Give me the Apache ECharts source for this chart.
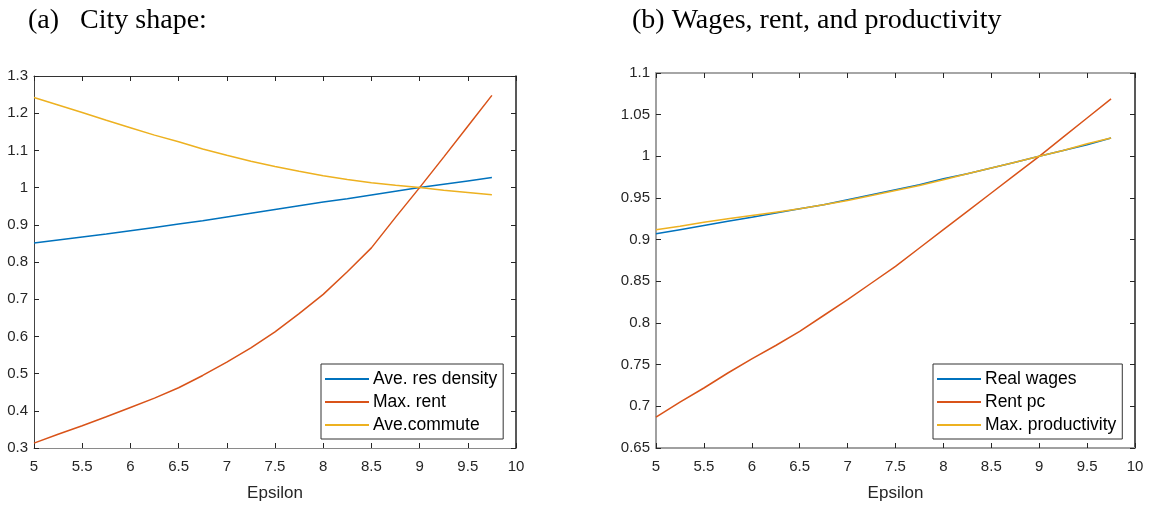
<!DOCTYPE html>
<html>
<head>
<meta charset="utf-8">
<script src="https://cdn.jsdelivr.net/npm/echarts@6/dist/echarts.min.js"></script>
<style>
  html, body { margin: 0; padding: 0; background: #fff; }
  #chart { width: 1151px; height: 507px; }
</style>
</head>
<body>
<div id="chart"></div>
<script>
// Elasticity parameter on the horizontal axis
const epsilon = [5, 5.25, 5.5, 5.75, 6, 6.25, 6.5, 6.75, 7, 7.25, 7.5, 7.75, 8, 8.25, 8.5, 8.75, 9, 9.25, 9.5, 9.75];

// (a) City shape
const resDensity = [0.851, 0.859, 0.867, 0.875, 0.884, 0.893, 0.902, 0.911, 0.921, 0.931, 0.941, 0.951, 0.961, 0.970, 0.980, 0.990, 1.000, 1.009, 1.018, 1.027];
const maxRent    = [0.313, 0.337, 0.360, 0.384, 0.409, 0.434, 0.462, 0.495, 0.531, 0.569, 0.612, 0.661, 0.713, 0.774, 0.838, 0.920, 1.000, 1.082, 1.165, 1.248];
const aveCommute = [1.242, 1.222, 1.202, 1.181, 1.161, 1.141, 1.123, 1.104, 1.087, 1.071, 1.057, 1.044, 1.032, 1.022, 1.013, 1.006, 1.000, 0.993, 0.987, 0.981];

// (b) Wages, rent, and productivity
const realWages       = [0.907, 0.912, 0.917, 0.922, 0.927, 0.932, 0.937, 0.942, 0.948, 0.954, 0.960, 0.966, 0.973, 0.979, 0.986, 0.993, 1.000, 1.007, 1.014, 1.022];
const rentPc          = [0.687, 0.705, 0.722, 0.740, 0.757, 0.773, 0.790, 0.809, 0.828, 0.848, 0.868, 0.890, 0.912, 0.934, 0.956, 0.978, 1.000, 1.023, 1.046, 1.069];
const maxProductivity = [0.912, 0.916, 0.921, 0.925, 0.929, 0.933, 0.937, 0.942, 0.947, 0.953, 0.959, 0.965, 0.972, 0.979, 0.986, 0.993, 1.000, 1.007, 1.015, 1.022];

// Axis ranges and tick steps
const xRange = { min: 5, max: 10, interval: 0.5 };
const yRangeA = { min: 0.3, max: 1.3, interval: 0.1 };
const yRangeB = { min: 0.65, max: 1.1, interval: 0.05 };

const COLORS = { blue: '#0072BD', red: '#D95319', yellow: '#EDB120' };
const SANS = 'Liberation Sans, Arial, sans-serif';
const SERIF = 'Liberation Serif, Times New Roman, serif';

const pair = ys => epsilon.map((x, i) => [x, ys[i]]);
const fmt = v => String(parseFloat(v.toFixed(2)));

function xAxisFor(gridIndex, pos, lineColor, lineWidth) {
  const main = pos === 'bottom';
  return {
    type: 'value', gridIndex, position: pos,
    min: xRange.min, max: xRange.max, interval: xRange.interval,
    name: main ? 'Epsilon' : '', nameLocation: 'middle', nameGap: 37,
    nameTextStyle: { fontFamily: SANS, fontSize: 17, color: '#262626' },
    axisLine: { show: true, onZero: false, lineStyle: { color: lineColor, width: lineWidth } },
    axisTick: { show: true, inside: true, length: 5, lineStyle: { color: '#262626', width: 1 } },
    axisLabel: { show: main, fontFamily: SANS, fontSize: 15, color: '#262626', margin: 11, formatter: fmt },
    splitLine: { show: false }
  };
}

function yAxisFor(gridIndex, pos, range, lineColor, lineWidth) {
  const main = pos === 'left';
  return {
    type: 'value', gridIndex, position: pos,
    min: range.min, max: range.max, interval: range.interval,
    axisLine: { show: true, onZero: false, lineStyle: { color: lineColor, width: lineWidth } },
    axisTick: { show: true, inside: true, length: 5, lineStyle: { color: '#262626', width: 1 } },
    axisLabel: { show: main, fontFamily: SANS, fontSize: 15, color: '#262626', margin: 6, formatter: fmt },
    splitLine: { show: false }
  };
}

function lineSeries(name, color, xIdx, yIdx, ys) {
  return {
    name, type: 'line', xAxisIndex: xIdx, yAxisIndex: yIdx,
    data: pair(ys), showSymbol: false, symbol: 'none', smooth: false,
    lineStyle: { color, width: 1.5 }, itemStyle: { color },
    animation: false
  };
}

function legendFor(names, left, top) {
  return {
    orient: 'vertical', left, top,
    data: names.map(n => ({ name: n, icon: 'rect' })),
    itemWidth: 44, itemHeight: 2, itemGap: 5,
    padding: [6, 6, 5, 4],
    backgroundColor: '#fff', borderColor: '#333', borderWidth: 1, borderRadius: 0,
    textStyle: { fontFamily: SANS, fontSize: 17.5, color: '#000', padding: [0, 0, 0, -1] },
    selectedMode: false
  };
}

const chart = echarts.init(document.getElementById('chart'), null, { renderer: 'canvas' });
chart.setOption({
  backgroundColor: '#fff',
  animation: false,
  title: [
    { text: '(a)   City shape:', left: 23, top: 2,
      textStyle: { fontFamily: SERIF, fontSize: 28, fontWeight: 'normal', color: '#000' } },
    { text: '(b) Wages, rent, and productivity', left: 627, top: 2,
      textStyle: { fontFamily: SERIF, fontSize: 28, fontWeight: 'normal', color: '#000' } }
  ],
  grid: [
    { left: 34, top: 76, width: 482, height: 376 },
    { left: 656, top: 73, width: 479, height: 379 }
  ],
  xAxis: [
    xAxisFor(0, 'bottom', '#8a8a8a', 1),
    xAxisFor(0, 'top', '#333', 1),
    xAxisFor(1, 'bottom', '#a0a0a0', 2),
    xAxisFor(1, 'top', '#a6a6a6', 2)
  ],
  yAxis: [
    yAxisFor(0, 'left', yRangeA, '#444', 1),
    yAxisFor(0, 'right', yRangeA, '#222', 1.5),
    yAxisFor(1, 'left', yRangeB, '#a0a0a0', 2),
    yAxisFor(1, 'right', yRangeB, '#222', 1.5)
  ],
  legend: [
    legendFor(['Ave. res density', 'Max. rent', 'Ave.commute'], 321, 364),
    legendFor(['Real wages', 'Rent pc', 'Max. productivity'], 933, 364)
  ],
  series: [
    lineSeries('Ave. res density', COLORS.blue, 0, 0, resDensity),
    lineSeries('Max. rent', COLORS.red, 0, 0, maxRent),
    lineSeries('Ave.commute', COLORS.yellow, 0, 0, aveCommute),
    lineSeries('Real wages', COLORS.blue, 2, 2, realWages),
    lineSeries('Rent pc', COLORS.red, 2, 2, rentPc),
    lineSeries('Max. productivity', COLORS.yellow, 2, 2, maxProductivity)
  ]
});
</script>
</body>
</html>
